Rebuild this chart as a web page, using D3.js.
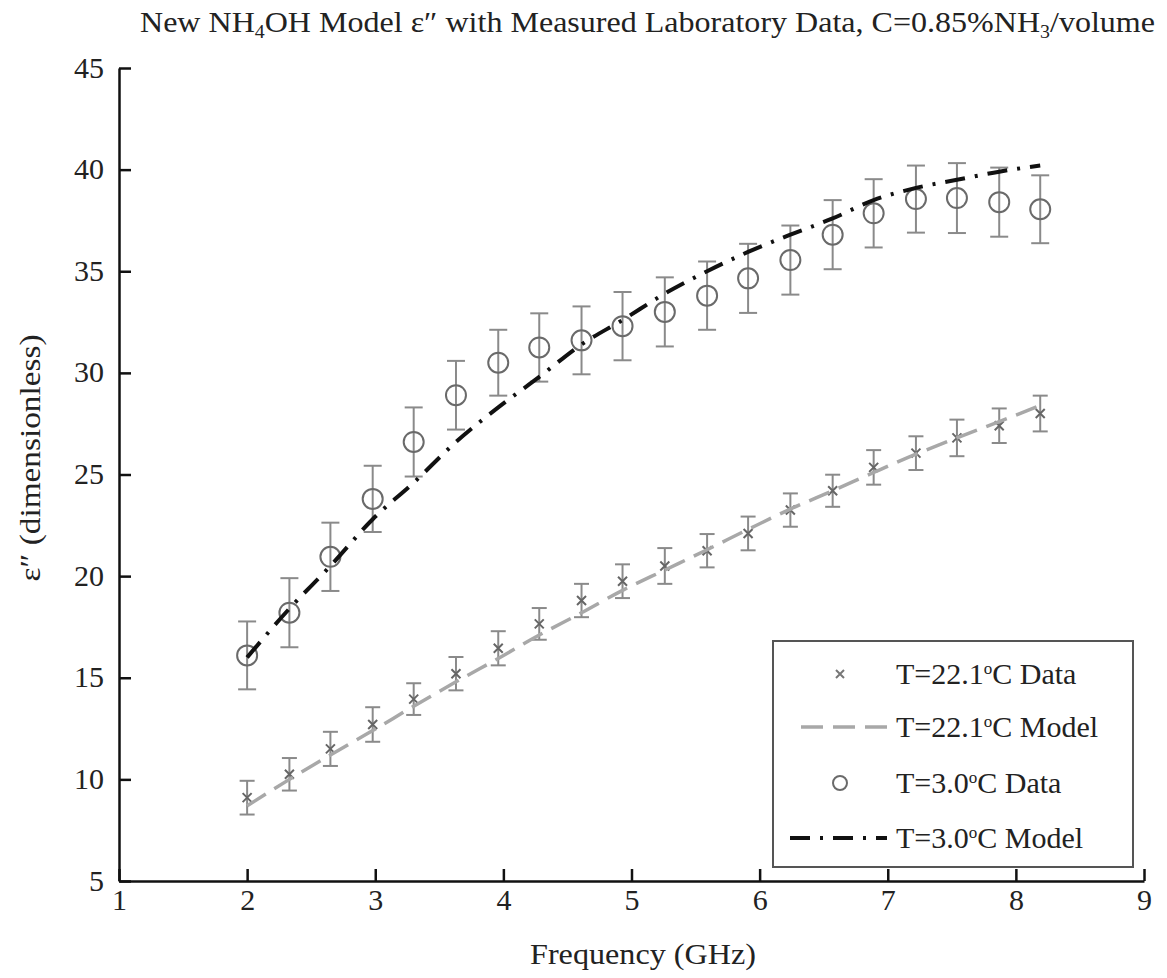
<!DOCTYPE html>
<html>
<head>
<meta charset="utf-8">
<script src="https://cdn.jsdelivr.net/npm/d3@7"></script>
<style>
  body { margin: 0; background: #fff; }
  svg { display: block; }
  .tick text { font-family: "Liberation Serif", serif; font-size: 30px; fill: #222; }
</style>
</head>
<body>
<svg id="chart" width="1167" height="978"></svg>
<script>
// frequency points (GHz), shared by both data sets and both models
const freq = [2.00, 2.33, 2.65, 2.98, 3.30, 3.63, 3.96, 4.28, 4.61, 4.93,
              5.26, 5.59, 5.91, 6.24, 6.57, 6.89, 7.22, 7.54, 7.87, 8.19];

// T=22.1 C measured e'' and error half-widths
const warmData = [9.1, 10.25, 11.5, 12.7, 13.95, 15.2, 16.45, 17.65, 18.8, 19.75,
                  20.5, 21.25, 22.1, 23.25, 24.2, 25.35, 26.05, 26.8, 27.4, 28.0];
const warmErr  = [0.83, 0.80, 0.84, 0.85, 0.78, 0.82, 0.84, 0.78, 0.82, 0.83,
                  0.88, 0.82, 0.83, 0.82, 0.79, 0.85, 0.83, 0.90, 0.85, 0.88];
const warmModel = [8.7, 10.0, 11.2, 12.4, 13.6, 14.8, 15.95, 17.1, 18.2, 19.3,
                   20.3, 21.3, 22.3, 23.3, 24.2, 25.1, 26.0, 26.8, 27.6, 28.4];

// T=3.0 C measured e'' and error half-widths
const coldData = [16.1, 18.2, 20.95, 23.8, 26.6, 28.9, 30.5, 31.25, 31.6, 32.3,
                  33.0, 33.8, 34.65, 35.55, 36.8, 37.85, 38.55, 38.6, 38.4, 38.05];
const coldErr  = [1.67, 1.70, 1.68, 1.63, 1.70, 1.69, 1.62, 1.68, 1.67, 1.68,
                  1.70, 1.68, 1.70, 1.70, 1.70, 1.68, 1.65, 1.72, 1.70, 1.67];
const coldModel = [16.0, 18.4, 20.5, 22.8, 24.6, 26.6, 28.3, 29.8, 31.4, 32.6,
                   33.9, 35.0, 35.95, 36.8, 37.6, 38.5, 39.1, 39.5, 39.9, 40.2];

const xTicks = [1, 2, 3, 4, 5, 6, 7, 8, 9];
const yTicks = [5, 10, 15, 20, 25, 30, 35, 40, 45];

const legendLabels = [
  ["T=22.1", "C Data"],
  ["T=22.1", "C Model"],
  ["T=3.0", "C Data"],
  ["T=3.0", "C Model"]
];

const svg = d3.select("#chart");

const x = d3.scaleLinear().domain([1, 9]).range([119, 1144]);
const y = d3.scaleLinear().domain([5, 45]).range([881, 68]);

const warm = freq.map((f, i) => ({ f, v: warmData[i], e: warmErr[i], m: warmModel[i] }));
const cold = freq.map((f, i) => ({ f, v: coldData[i], e: coldErr[i], m: coldModel[i] }));

// axes, ticks pointing inward
const xAxis = svg.append("g")
  .attr("transform", `translate(0,${y(5)})`)
  .call(d3.axisBottom(x).tickValues(xTicks).tickSizeInner(-12).tickSizeOuter(0).tickPadding(8));
const yAxis = svg.append("g")
  .attr("transform", `translate(${x(1)},0)`)
  .call(d3.axisLeft(y).tickValues(yTicks).tickSizeInner(-12).tickSizeOuter(0).tickPadding(15));

[xAxis, yAxis].forEach(a => {
  a.select(".domain").attr("stroke", "#111").attr("stroke-width", 2.5);
  a.selectAll(".tick line").attr("stroke", "#111").attr("stroke-width", 2.5);
});
yAxis.selectAll(".tick text").attr("dy", "0.3em");

// error bars
function errorBars(data, cap, cls) {
  const g = svg.append("g").attr("class", cls)
    .attr("stroke", "#8a8a8a").attr("stroke-width", 2).attr("fill", "none");
  g.selectAll("line.v").data(data).join("line").attr("class", "v")
    .attr("x1", d => x(d.f)).attr("x2", d => x(d.f))
    .attr("y1", d => y(d.v + d.e)).attr("y2", d => y(d.v - d.e));
  g.selectAll("line.t").data(data).join("line").attr("class", "t")
    .attr("x1", d => x(d.f) - cap).attr("x2", d => x(d.f) + cap)
    .attr("y1", d => y(d.v + d.e)).attr("y2", d => y(d.v + d.e));
  g.selectAll("line.b").data(data).join("line").attr("class", "b")
    .attr("x1", d => x(d.f) - cap).attr("x2", d => x(d.f) + cap)
    .attr("y1", d => y(d.v - d.e)).attr("y2", d => y(d.v - d.e));
}
errorBars(warm, 7.5, "warm-err");
errorBars(cold, 9, "cold-err");

// markers
const crossPath = s => `M${-s},${-s}L${s},${s}M${-s},${s}L${s},${-s}`;
svg.append("g").selectAll("path").data(warm).join("path")
  .attr("transform", d => `translate(${x(d.f)},${y(d.v)})`)
  .attr("d", crossPath(4.5))
  .attr("stroke", "#666").attr("stroke-width", 2).attr("fill", "none");

svg.append("g").selectAll("circle").data(cold).join("circle")
  .attr("cx", d => x(d.f)).attr("cy", d => y(d.v)).attr("r", 10)
  .attr("stroke", "#6a6a6a").attr("stroke-width", 2).attr("fill", "none");

// model curves
const line = d3.line().x(d => x(d.f)).y(d => y(d.m)).curve(d3.curveMonotoneX);
svg.append("path").datum(warm).attr("d", line)
  .attr("fill", "none").attr("stroke", "#a8a8a8").attr("stroke-width", 3.5)
  .attr("stroke-dasharray", "22,10");
svg.append("path").datum(cold).attr("d", line)
  .attr("fill", "none").attr("stroke", "#111").attr("stroke-width", 4)
  .attr("stroke-dasharray", "20,10,3,10");

// title and axis labels
const title = svg.append("text")
  .attr("x", 140).attr("y", 32)
  .attr("textLength", 1015).attr("lengthAdjust", "spacingAndGlyphs")
  .style("font-family", "'Liberation Serif', serif").style("font-size", "29px").attr("fill", "#222");
title.append("tspan").text("New NH");
title.append("tspan").attr("dy", 6).style("font-size", "18px").text("4");
title.append("tspan").attr("dy", -6).text("OH Model \u03b5\u2033 with Measured Laboratory Data, C=0.85%NH");
title.append("tspan").attr("dy", 6).style("font-size", "18px").text("3");
title.append("tspan").attr("dy", -6).text("/volume");

svg.append("text")
  .attr("x", 643).attr("y", 964).attr("text-anchor", "middle")
  .attr("textLength", 226).attr("lengthAdjust", "spacingAndGlyphs")
  .style("font-family", "'Liberation Serif', serif").style("font-size", "29px").attr("fill", "#222")
  .text("Frequency (GHz)");

svg.append("text")
  .attr("transform", "translate(40,458) rotate(-90)").attr("text-anchor", "middle")
  .attr("textLength", 247).attr("lengthAdjust", "spacingAndGlyphs")
  .style("font-family", "'Liberation Serif', serif").style("font-size", "29px").attr("fill", "#222")
  .text("\u03b5\u2033 (dimensionless)");

// legend
const lg = svg.append("g");
lg.append("rect").attr("x", 773).attr("y", 641).attr("width", 360).attr("height", 226)
  .attr("fill", "#fff").attr("stroke", "#555").attr("stroke-width", 2);
const rowY = [674, 727, 783, 838];
lg.append("path").attr("transform", `translate(840,${rowY[0]})`).attr("d", crossPath(4))
  .attr("stroke", "#777").attr("stroke-width", 2).attr("fill", "none");
lg.append("line").attr("x1", 801).attr("x2", 887).attr("y1", rowY[1]).attr("y2", rowY[1])
  .attr("stroke", "#a8a8a8").attr("stroke-width", 3.5).attr("stroke-dasharray", "22,10");
lg.append("circle").attr("cx", 840).attr("cy", rowY[2]).attr("r", 7)
  .attr("stroke", "#6a6a6a").attr("stroke-width", 2).attr("fill", "none");
lg.append("line").attr("x1", 790).attr("x2", 887).attr("y1", rowY[3]).attr("y2", rowY[3])
  .attr("stroke", "#111").attr("stroke-width", 4).attr("stroke-dasharray", "20,10,3,10");

legendLabels.forEach((lab, i) => {
  const t = lg.append("text").attr("x", 896).attr("y", rowY[i] + 10)
    .style("font-family", "'Liberation Serif', serif").style("font-size", "30px").attr("fill", "#222");
  t.append("tspan").text(lab[0]);
  t.append("tspan").attr("dy", -10).style("font-size", "17px").text("o");
  t.append("tspan").attr("dy", 10).text(lab[1]);
});
</script>
</body>
</html>
